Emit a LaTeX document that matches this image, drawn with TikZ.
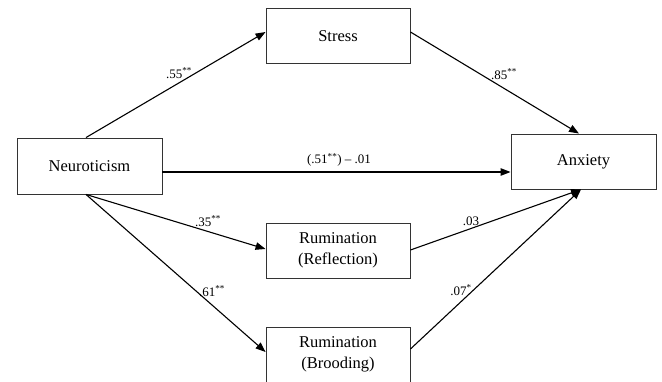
\documentclass[tikz,border=0pt]{standalone}
\usepackage{fontspec}
\setmainfont{Liberation Serif}
\usetikzlibrary{arrows.meta}
\begin{document}
\begin{tikzpicture}[x=1pt,y=-1pt,
  varbox/.style={draw=black!80,line width=0.9pt,minimum width=144pt,minimum height=55pt,inner sep=0pt,font=\fontsize{16.5}{21}\selectfont,align=center},
  path/.style={line width=1.1pt,-{Triangle[length=10pt,width=7.5pt]}},
  coef/.style={font=\fontsize{13}{15}\selectfont,inner sep=0pt}]
\useasboundingbox (0,0) rectangle (662,382);
\clip (0,0) rectangle (662,382);
\node[varbox] (stress) at (338,36) {Stress};
\node[varbox,minimum width=145pt,minimum height=56pt] (neuro) at (89.5,166) {Neuroticism};
\node[varbox,minimum width=145pt] (anx) at (583.5,161.5) {Anxiety};
\node[varbox] (refl) at (338,250.5) {Rumination\\(Reflection)};
\node[varbox] (brood) at (338,354.5) {Rumination\\(Brooding)};
\draw[path] ([xshift=-3.5pt]neuro.north) -- ([yshift=4pt]stress.west);
\draw[path] ([yshift=4pt]stress.east) -- ([xshift=-4.5pt]anx.north);
\draw[path] ([yshift=-6pt]neuro.east) -- ([yshift=-10.5pt]anx.west);
\draw[path] ([xshift=-3.5pt]neuro.south) -- ([yshift=1.5pt]refl.west);
\draw[path] ([xshift=-3.5pt]neuro.south) -- ([yshift=2.5pt]brood.west);
\draw[path] ([yshift=0.5pt]refl.east) -- ([xshift=-2.5pt]anx.south);
\draw[path] ([yshift=5.5pt]brood.east) -- ([xshift=-2.5pt]anx.south);
\node[coef] (c1) at (179,73) {.55\textsuperscript{**}};
\node[coef] (c2) at (504,74) {.85\textsuperscript{**}};
\node[coef] (c3) at (339,160) {(.51\textsuperscript{**}) – .01};
\node[coef] (c4) at (208,221) {.35\textsuperscript{**}};
\node[coef] (c5) at (212,291) {.61\textsuperscript{**}};
\node[coef] (c6) at (471,221) {.03};
\node[coef] (c7) at (461,290) {.07\textsuperscript{*}};
\end{tikzpicture}
\end{document}
